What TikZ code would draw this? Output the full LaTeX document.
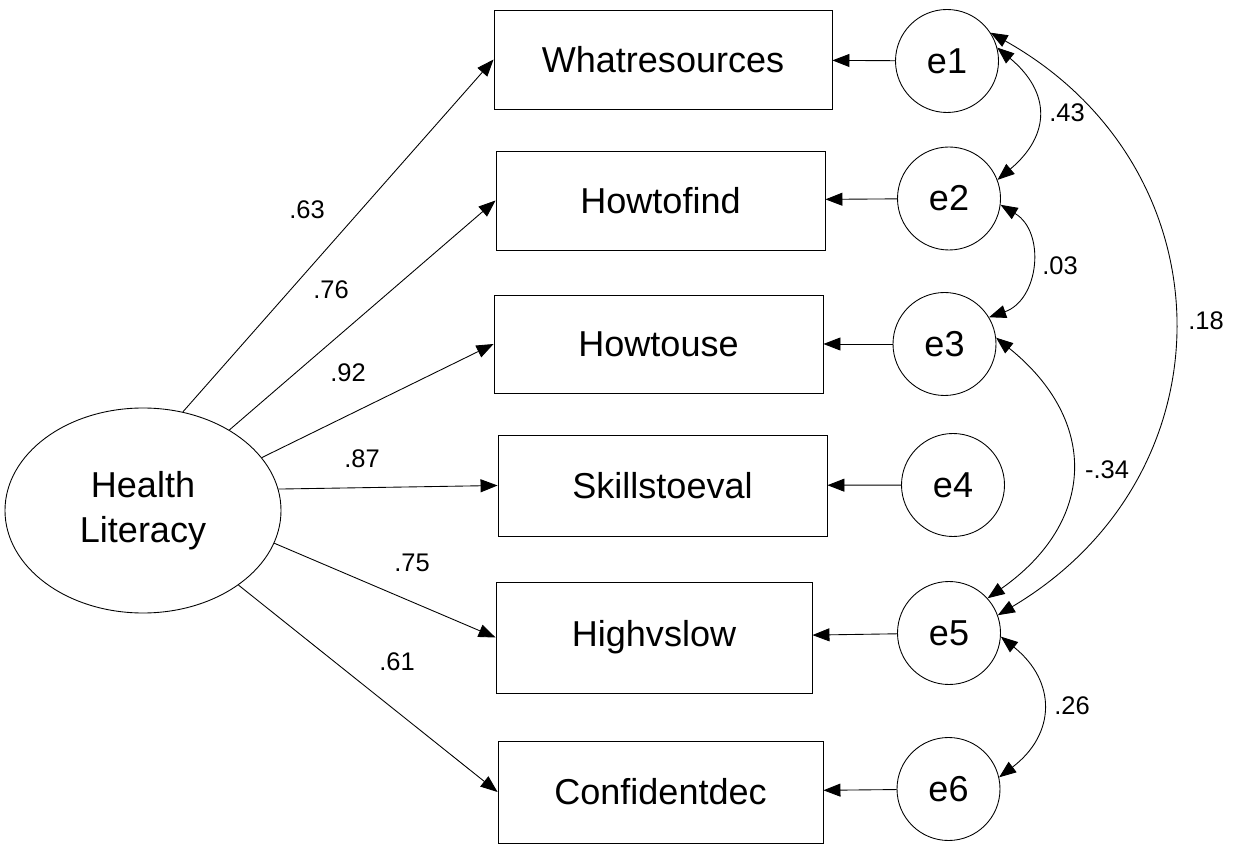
\documentclass[tikz,border=0pt]{standalone}
\usepackage{fontspec}
\setmainfont{Liberation Sans}
\usepackage{tikz}
\usetikzlibrary{arrows.meta,shapes.geometric}

\begin{document}
\begin{tikzpicture}[
    >={Stealth[length=3.4mm,width=2.6mm,inset=0pt]},
    latent/.style={draw,ellipse,line width=0.5pt,minimum width=5.52cm,minimum height=4.1cm,inner sep=0pt,align=center,font=\fontsize{20.5}{25.6}\selectfont},
    itembox/.style={draw,rectangle,line width=0.5pt,minimum width=6.58cm,minimum height=2cm,inner sep=0pt,font=\fontsize{20.5}{24}\selectfont},
    errcirc/.style={draw,circle,line width=0.5pt,minimum size=2.06cm,inner sep=0pt,font=\fontsize{20.5}{24}\selectfont},
    coef/.style={font=\fontsize{14.5}{17}\selectfont,inner sep=0pt},
    load/.style={line width=0.5pt,black,->},
    cov/.style={line width=0.5pt,black,<->}
  ]
    \useasboundingbox (0,0) rectangle (24.68,16.88);

    \node[latent] (HL) at (2.86,6.67) {Health\\Literacy};

    \node[itembox,minimum width=6.76cm,minimum height=1.98cm] (what) at (13.26,15.69) {Whatresources};
    \node[itembox,minimum height=1.98cm] (find) at (13.21,12.87) {Howtofind};
    \node[itembox,minimum height=1.96cm] (use) at (13.17,10.00) {Howtouse};
    \node[itembox,minimum height=2.02cm] (skill) at (13.25,7.17) {Skillstoeval};
    \node[itembox,minimum width=6.32cm,minimum height=2.22cm] (high) at (13.08,4.13) {Highvslow};
    \node[itembox,minimum width=6.5cm,minimum height=2.04cm] (conf) at (13.21,1.04) {Confidentdec};

    \node[errcirc] (e1) at (18.94,15.66) {e1};
    \node[errcirc] (e2) at (18.98,12.91) {e2};
    \node[errcirc] (e3) at (18.89,10.00) {e3};
    \node[errcirc] (e4) at (19.06,7.18) {e4};
    \node[errcirc] (e5) at (18.98,4.22) {e5};
    \node[errcirc] (e6) at (18.97,1.10) {e6};

    \draw[load] (HL.68) -- (what.west);
    \draw[load] (HL.43) -- (find.west);
    \draw[load] (HL.24) -- (use.west);
    \draw[load] (HL.9) -- (skill.west);
    \draw[load] (HL.-14) -- (high.west);
    \draw[load] (HL.-38) -- (conf.west);

    \node[coef] (l63) at (6.14,12.68) {.63};
    \node[coef] (l76) at (6.62,11.08) {.76};
    \node[coef] (l92) at (6.96,9.42) {.92};
    \node[coef] (l87) at (7.24,7.70) {.87};
    \node[coef] (l75) at (8.24,5.62) {.75};
    \node[coef] (l61) at (7.94,3.64) {.61};

    \draw[load] (e1) -- (what);
    \draw[load] (e2) -- (find);
    \draw[load] (e3) -- (use);
    \draw[load] (e4) -- (skill);
    \draw[load] (e5) -- (high);
    \draw[load] (e6) -- (conf);

    \draw[cov] (e1.15) to[bend left=50,looseness=1.35] (e2.21);
    \draw[cov] (e2.-7) to[bend left=65,looseness=1.2] (e3.31);
    \draw[cov] (e1.33) to[bend left=60,looseness=1.21] (e5.20);
    \draw[cov] (e3.7) to[bend left=53,looseness=1.3] (e5.42);
    \draw[cov] (e5.-4) to[bend left=52,looseness=1.3] (e6.13);

    \node[coef] (c43) at (21.34,14.62) {.43};
    \node[coef] (c03) at (21.20,11.56) {.03};
    \node[coef] (c18) at (24.12,10.46) {.18};
    \node[coef] (c34) at (22.14,7.48) {-.34};
    \node[coef] (c26) at (21.44,2.76) {.26};
  \end{tikzpicture}
\end{document}
